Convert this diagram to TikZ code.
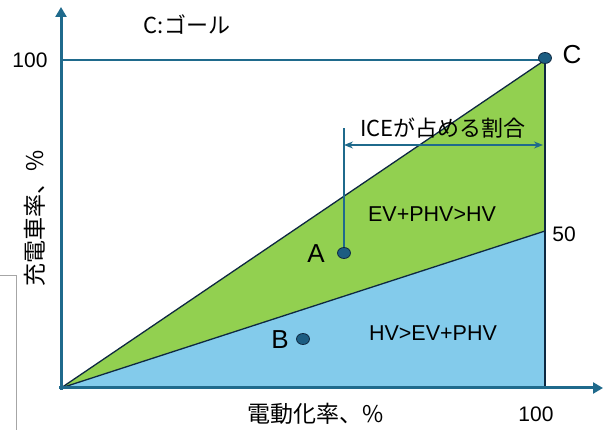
\documentclass[tikz,border=0pt]{standalone}
\usepackage{fontspec}
\setmainfont{Liberation Sans}
\newfontfamily\jp{Noto Sans CJK JP}
\usetikzlibrary{arrows.meta,shapes.geometric}
\definecolor{axisblue}{HTML}{1F6A8C}
\definecolor{fillgreen}{HTML}{92D050}
\definecolor{fillblue}{HTML}{83CBEB}
\definecolor{outline}{HTML}{0E2841}
\definecolor{dotfill}{HTML}{1C5D82}
\tikzset{
  axisline/.style={draw=axisblue, line width=3pt, -{Triangle[length=10pt,width=11pt]}},
  edge/.style={draw=outline, line width=1.3pt},
  dot/.style={ellipse, draw=outline, fill=dotfill, line width=0.8pt, minimum width=13pt, minimum height=11pt, inner sep=0pt},
  lbl/.style={inner sep=0pt, font=\fontsize{21}{21}\selectfont},
  region/.style={inner sep=0pt, font=\fontsize{21.5}{21.5}\selectfont},
  big/.style={inner sep=0pt, font=\fontsize{26}{26}\selectfont},
  jplbl/.style={inner sep=0pt, font=\jp\fontsize{22}{22}\selectfont},
}
\begin{document}
\begin{tikzpicture}[x=1pt,y=-1pt]
\useasboundingbox (0,0) rectangle (603,430);
% left box fragment
\draw[gray!70, line width=0.8pt] (0,275) -- (16,275) -- (16,432);
\coordinate (O) at (61,388);
\coordinate (C0) at (545,60);
\coordinate (F) at (545,231);
\coordinate (E) at (545,388);
\coordinate (Y100) at (61,60);
\fill[fillblue] (O) -- (F) -- (E) -- cycle;
\fill[fillgreen] (O) -- (C0) -- (F) -- cycle;
\draw[edge] (O) -- (C0);
\draw[edge] (O) -- (F);
\draw[edge] (C0) -- (E);
\draw[axisblue, line width=1.5pt] (Y100) -- (C0);
% axes
\coordinate (Ytop) at (61,7);
\coordinate (Xend) at (603,388);
\coordinate (Ob) at (61,390);
\coordinate (Ol) at (59,388);
\draw[axisline] (Ob) -- (Ytop);
\draw[axisline] (Ol) -- (Xend);
% dots
\node[dot] (C) at (545,58) {};
\node[dot] (A) at (344,253) {};
\node[dot] (B) at (303,339) {};
\node[big] (Cl) at (572,55) {C};
\node[big] (Al) at (316,254) {A};
\node[big] (Bl) at (280,340) {B};
% ICE share
\coordinate (At) at (344,128);
\draw[axisblue, line width=1.3pt] (A.north) -- (At);
\coordinate (L1) at (344,145);
\coordinate (L2) at (543,145);
\draw[axisblue, line width=1.3pt, {Stealth[length=9pt,width=7pt]}-{Stealth[length=9pt,width=7pt]}] (L1) -- (L2);
\node[jplbl] (ice) at (443,128) {ICEが占める割合};
% region labels
\node[region] (g) at (432,214) {EV+PHV>HV};
\node[region] (b) at (433,333) {HV>EV+PHV};
% ticks and axis labels
\node[lbl] (y100) at (30,60) {100};
\node[lbl] (y50) at (564,234) {50};
\node[lbl] (x100) at (536,414) {100};
\node[jplbl, font=\jp\fontsize{22}{22}\selectfont] (goal) at (187,25) {C:ゴール};
\node[jplbl, font=\jp\fontsize{23}{23}\selectfont] (xl) at (316,414) {電動化率、\%};
\node[jplbl, font=\jp\fontsize{23}{23}\selectfont, rotate=90] (yl) at (35,218) {充電車率、\%};
\end{tikzpicture}
\end{document}
